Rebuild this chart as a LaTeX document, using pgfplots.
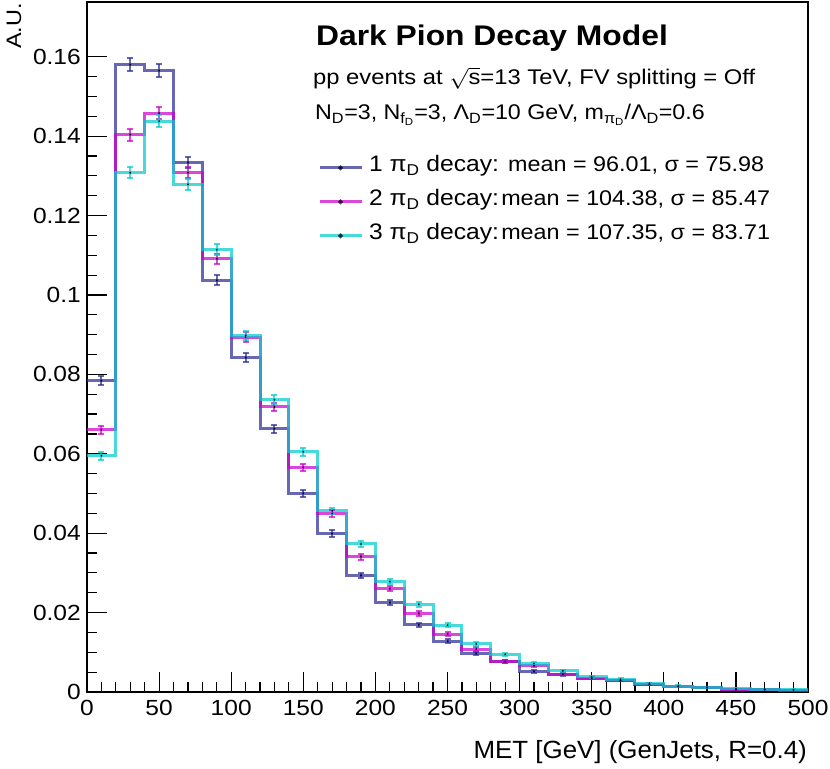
\documentclass[border=0pt]{standalone}
\usepackage{pgfplots}
\pgfplotsset{compat=1.18}
\usepackage{pgfplotstable}
\usepackage{graphicx}
\usepackage{fontspec}
\setmainfont{Liberation Sans}
\newcommand{\sx}[2]{\scalebox{#1}[1]{#2}}
\definecolor{cA}{RGB}{45,45,150}
\definecolor{cM}{RGB}{204,0,204}
\definecolor{cC}{RGB}{0,204,204}

% 1 pi_D decay
\pgfplotstableread{
lo c y e
0 10 0.0784 0.00112
20 30 0.1580 0.00159
40 50 0.1565 0.00158
60 70 0.1334 0.00146
80 90 0.1037 0.00129
100 110 0.0842 0.00116
120 130 0.0663 0.00103
140 150 0.0501 0.00090
160 170 0.0399 0.00080
180 190 0.0294 0.00069
200 210 0.0225 0.00060
220 230 0.0169 0.00052
240 250 0.0128 0.00045
260 270 0.0097 0.00039
280 290 0.0076 0.00035
300 310 0.0052 0.00029
320 330 0.0044 0.00027
340 350 0.0035 0.00024
360 370 0.0029 0.00022
380 390 0.0019 0.00017
400 410 0.0014 0.00015
420 430 0.0011 0.00013
440 450 0.0007 0.00011
460 470 0.0006 0.00010
480 490 0.0005 0.00009
500 nan 0.0005 0
}\tabA
% 2 pi_D decay
\pgfplotstableread{
lo c y e
0 10 0.0660 0.00103
20 30 0.1404 0.00150
40 50 0.1458 0.00153
60 70 0.1308 0.00145
80 90 0.1091 0.00132
100 110 0.0894 0.00120
120 130 0.0718 0.00107
140 150 0.0566 0.00095
160 170 0.0450 0.00085
180 190 0.0341 0.00074
200 210 0.0260 0.00064
220 230 0.0198 0.00056
240 250 0.0146 0.00048
260 270 0.0108 0.00042
280 290 0.0077 0.00035
300 310 0.0066 0.00032
320 330 0.0045 0.00027
340 350 0.0035 0.00024
360 370 0.0029 0.00022
380 390 0.0020 0.00018
400 410 0.0014 0.00015
420 430 0.0011 0.00013
440 450 0.0007 0.00011
460 470 0.0006 0.00010
480 490 0.0005 0.00009
500 nan 0.0005 0
}\tabB
% 3 pi_D decay
\pgfplotstableread{
lo c y e
0 10 0.0595 0.00098
20 30 0.1308 0.00145
40 50 0.1438 0.00152
60 70 0.1279 0.00143
80 90 0.1114 0.00134
100 110 0.0898 0.00120
120 130 0.0736 0.00109
140 150 0.0605 0.00098
160 170 0.0456 0.00085
180 190 0.0373 0.00077
200 210 0.0278 0.00067
220 230 0.0221 0.00059
240 250 0.0168 0.00052
260 270 0.0121 0.00044
280 290 0.0095 0.00039
300 310 0.0072 0.00034
320 330 0.0053 0.00029
340 350 0.0038 0.00025
360 370 0.0032 0.00023
380 390 0.0022 0.00019
400 410 0.0015 0.00015
420 430 0.0012 0.00014
440 450 0.0008 0.00011
460 470 0.0007 0.00011
480 490 0.0006 0.00010
500 nan 0.0006 0
}\tabC

\begin{document}
\begin{tikzpicture}
\path[use as bounding box] (0bp,0bp) rectangle (830bp,769bp);
\begin{axis}[
  at={(87bp,77bp)}, anchor=south west, scale only axis,
  width=721bp, height=690bp,
  xmin=0, xmax=500, ymin=0, ymax=0.1738,
  xtick={0,50,...,500}, ytick={0,0.02,...,0.16},
  minor x tick num=4, minor y tick num=3,
  xtick pos=bottom, ytick pos=left,
  tick align=inside,
  major tick length=20bp, minor tick length=10bp,
  tick style={black, line width=1.2bp},
  axis line style={line width=1.2bp},
  scaled y ticks=false, scaled x ticks=false,
  /pgf/number format/.cd, fixed, precision=2, assume math mode=true, /pgfplots/.cd,
  ticklabel style={font=\fontsize{22}{26}\selectfont, inner sep=0pt},
  xticklabel={\sx{1.12}{\pgfmathprintnumber{\tick}}},
  yticklabel={\sx{1.12}{\pgfmathprintnumber{\tick}}},
  xticklabel style={yshift=-8bp},
  yticklabel style={xshift=-6bp},
  legend cell align=left,
  legend style={at={(rel axis cs:0.3204,0.782)}, anchor=north west,
    draw=none, fill=none, inner sep=0pt, outer sep=0pt,
    row sep=3bp, column sep=6bp,
    nodes={inner sep=0pt, text height=19bp, text depth=12bp}},
  legend image code/.code={
    \draw[#1, line width=3bp] (0bp,0bp) -- (42bp,0bp);
    \fill[black] (21bp,0bp) circle (0.6bp);},
]
% histograms
\addplot[const plot mark left, draw=cA, draw opacity=0.72, line width=3bp, no marks]
  table[x=lo, y=y] {\tabA};
\addlegendentry{\sx{1.1}{\fontsize{22.5}{27}\selectfont 1 π\textsubscript{D} decay: {\fontsize{21.3}{25}\selectfont mean = 96.01, σ = 75.98}}}
\addplot[const plot mark left, draw=cM, draw opacity=0.72, line width=3bp, no marks]
  table[x=lo, y=y] {\tabB};
\addlegendentry{\sx{1.1}{\fontsize{22.5}{27}\selectfont 2 π\textsubscript{D} decay:\hspace{2bp}{\fontsize{21.3}{25}\selectfont mean = 104.38, σ = 85.47}}}
\addplot[const plot mark left, draw=cC, draw opacity=0.72, line width=3bp, no marks]
  table[x=lo, y=y] {\tabC};
\addlegendentry{\sx{1.1}{\fontsize{22.5}{27}\selectfont 3 π\textsubscript{D} decay:\hspace{2bp}{\fontsize{21.3}{25}\selectfont mean = 107.35, σ = 83.71}}}
% error bars with centre dots
\addplot[forget plot, only marks, mark=*, mark size=0.6bp, mark options={black, fill=black},
  error bars/.cd, y dir=both, y explicit,
  error bar style={cA, opacity=0.72, line width=2bp},
  error mark options={cA, opacity=0.72, line width=2bp, mark size=3bp, rotate=90}]
  table[x=c, y=y, y error=e] {\tabA};
\addplot[forget plot, only marks, mark=*, mark size=0.6bp, mark options={black, fill=black},
  error bars/.cd, y dir=both, y explicit,
  error bar style={cM, opacity=0.72, line width=2bp},
  error mark options={cM, opacity=0.72, line width=2bp, mark size=3bp, rotate=90}]
  table[x=c, y=y, y error=e] {\tabB};
\addplot[forget plot, only marks, mark=*, mark size=0.6bp, mark options={black, fill=black},
  error bars/.cd, y dir=both, y explicit,
  error bar style={cC, opacity=0.72, line width=2bp},
  error mark options={cC, opacity=0.72, line width=2bp, mark size=3bp, rotate=90}]
  table[x=c, y=y, y error=e] {\tabC};
\end{axis}
% texts
\node[anchor=base west, inner sep=0pt] at (316bp,723bp)
  {\fontsize{28.5}{32}\selectfont\bfseries\sx{1.12}{Dark Pion Decay Model}};
\node[anchor=base west, inner sep=0pt] at (313bp,684bp)
  {\fontsize{21.3}{26}\selectfont\sx{1.12}{pp events at $\sqrt{\mbox{s}}$=13 TeV, FV splitting = Off}};
\node[anchor=base west, inner sep=0pt] at (315bp,649bp)
  {\fontsize{21.3}{26}\selectfont\sx{1.095}{N\textsubscript{D}=3, N\textsubscript{f\textsubscript{D}}=3, Λ\textsubscript{D}=10 GeV, m\textsubscript{π\textsubscript{D}}/Λ\textsubscript{D}=0.6}};
\node[anchor=base east, inner sep=0pt] at (807bp,11bp)
  {\fontsize{25}{29}\selectfont\sx{1.04}{MET [GeV] (GenJets, R=0.4)}};
\node[rotate=90, anchor=base east, inner sep=0pt] at (21bp,766bp)
  {\fontsize{21}{25}\selectfont\sx{1.12}{A.U.}};
\end{tikzpicture}
\end{document}
